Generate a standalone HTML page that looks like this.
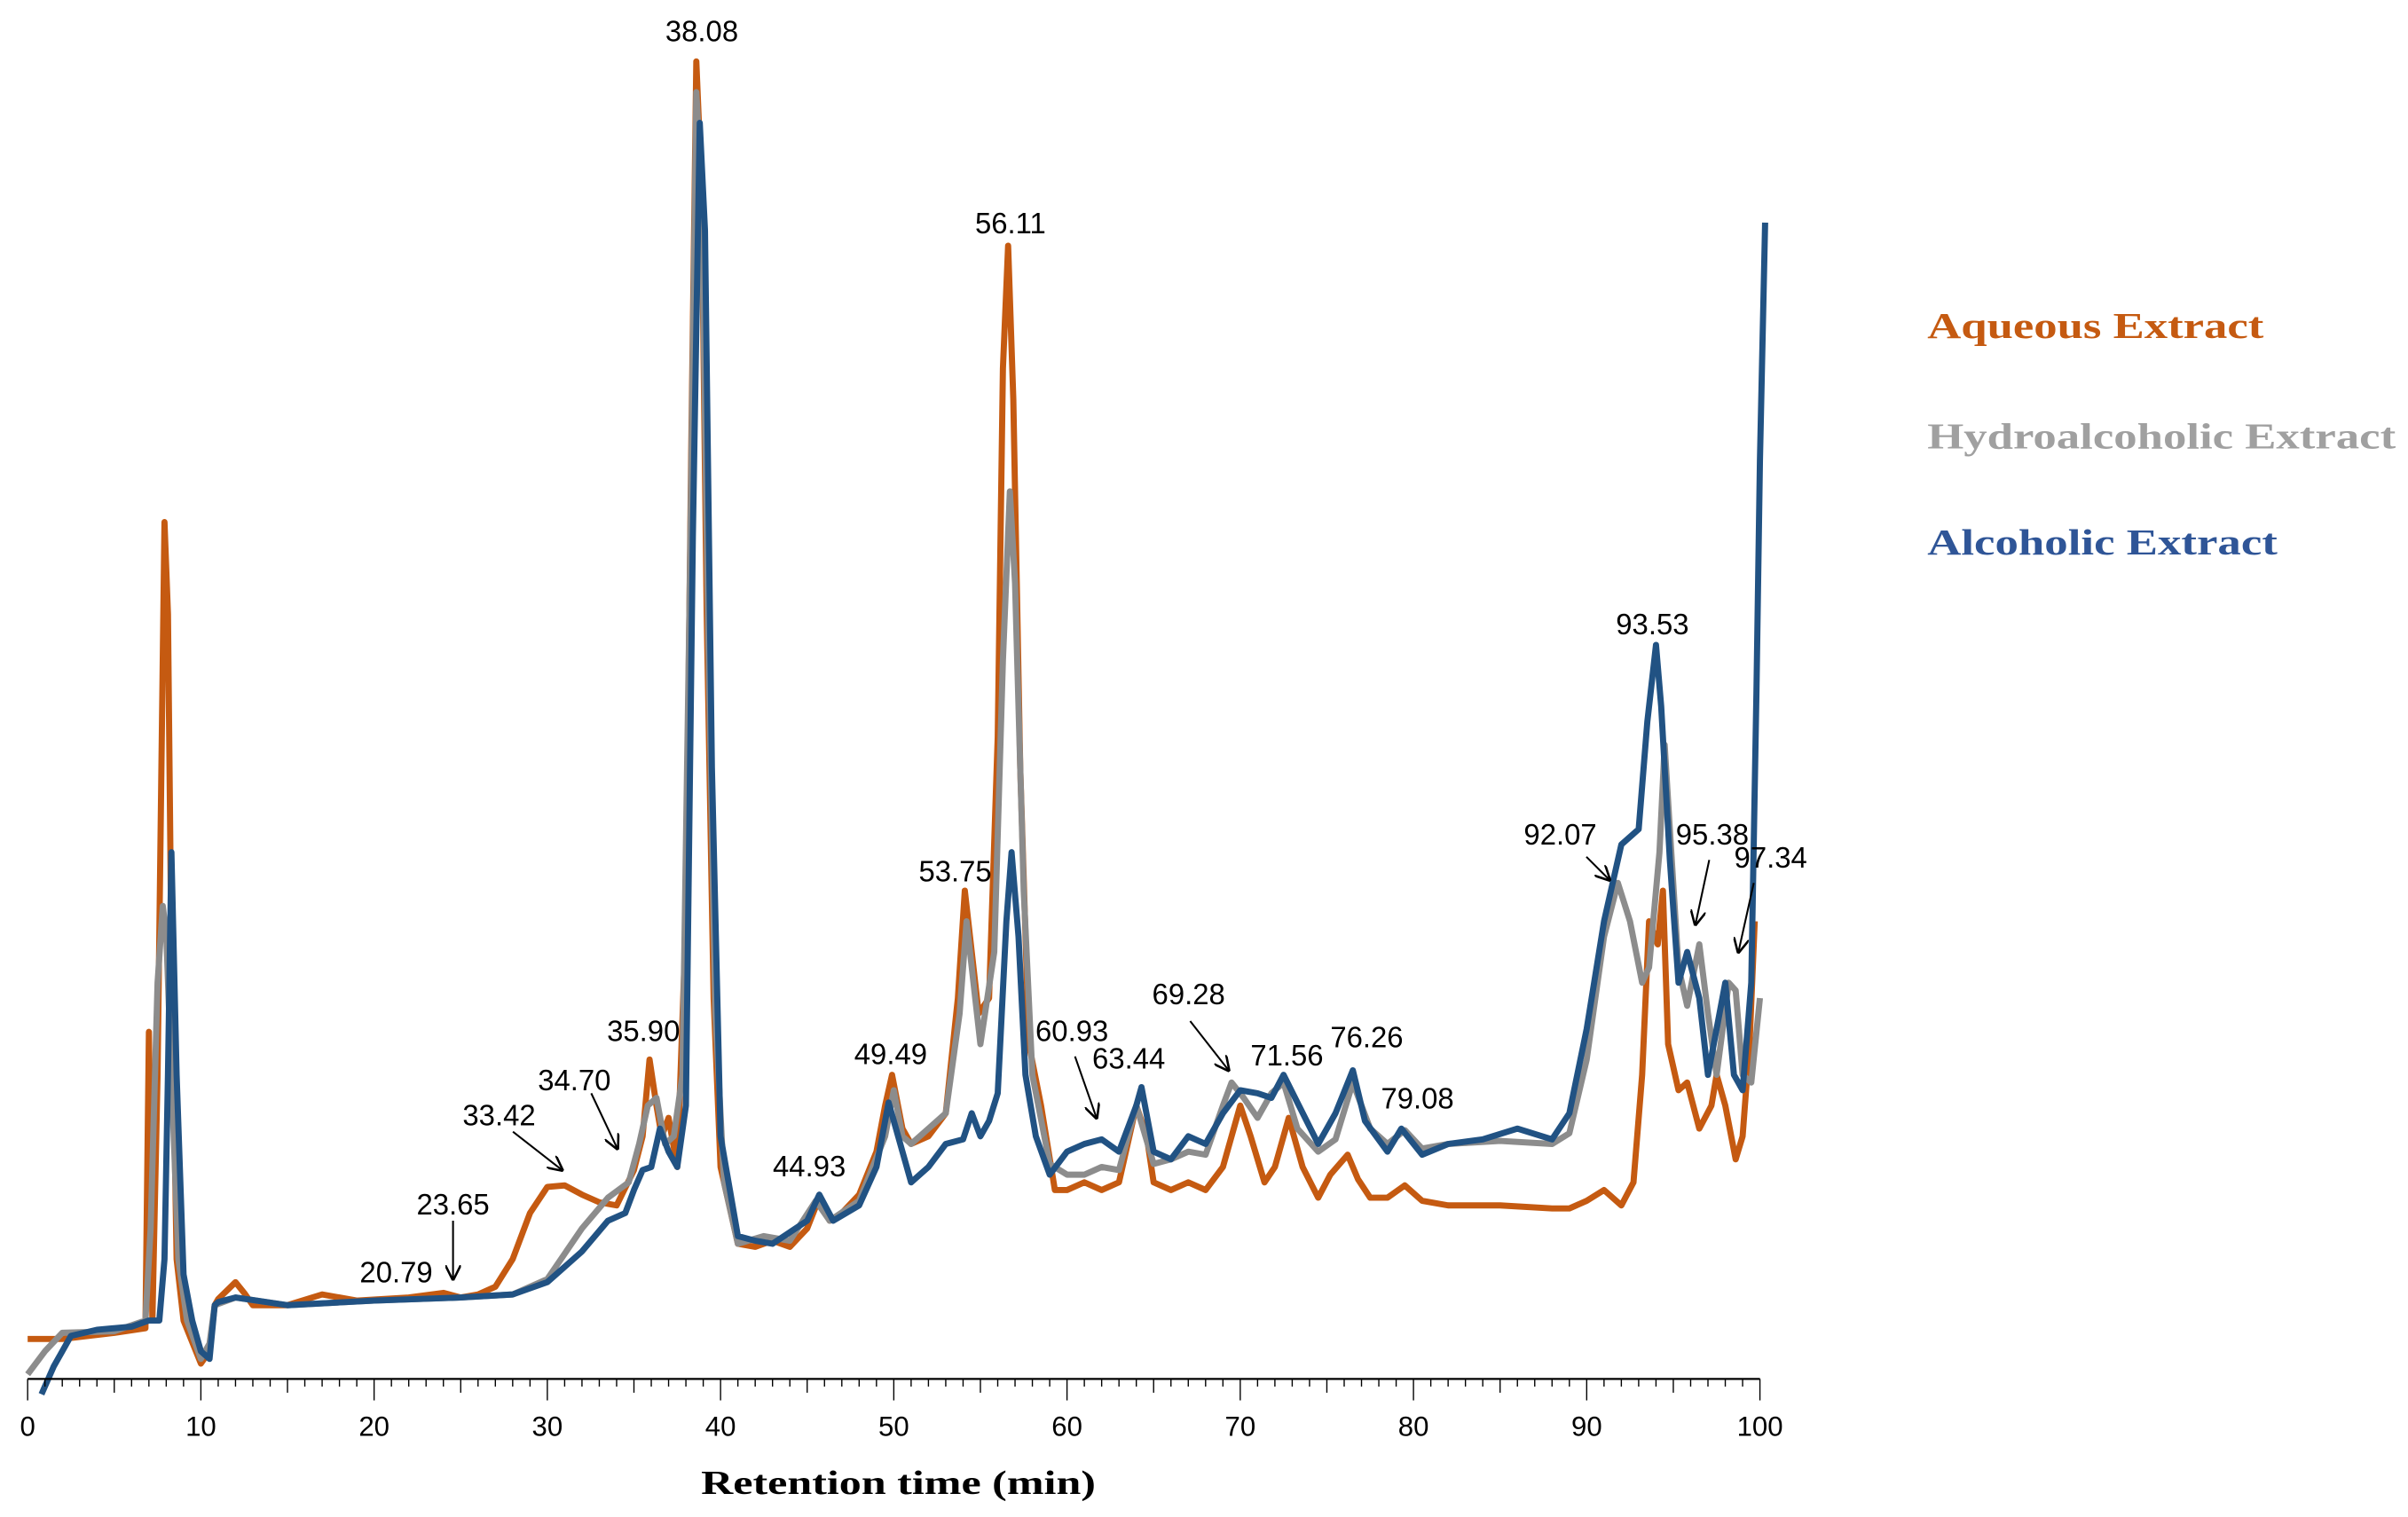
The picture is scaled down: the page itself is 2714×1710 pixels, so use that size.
<!DOCTYPE html>
<html><head><meta charset="utf-8"><style>
html,body{margin:0;padding:0;background:#fff;}
svg{display:block;}
</style></head><body>
<svg id="chart" width="2714" height="1710" viewBox="0 0 2714 1710" xmlns="http://www.w3.org/2000/svg">
<defs><marker id="ah" markerWidth="10" markerHeight="10" refX="9" refY="5" orient="auto" markerUnits="userSpaceOnUse"><path d="M0,0 L10,5 L0,10" fill="none" stroke="#000" stroke-width="1.5"/></marker></defs>
<g id="root" transform="scale(1.73087)">
<g id="series"></g>
<g id="axis"></g>
<g id="ann" font-family="'Liberation Sans', sans-serif" font-size="19" fill="#000"></g>
<text x="585" y="973" text-anchor="middle" font-family="'Liberation Serif', serif" font-weight="bold" font-size="22" textLength="257" lengthAdjust="spacingAndGlyphs">Retention time (min)</text>
<g font-family="'Liberation Serif', serif" font-weight="bold" font-size="24">
<text x="1255" y="220" fill="#C55A11" textLength="219" lengthAdjust="spacingAndGlyphs">Aqueous Extract</text>
<text x="1255" y="292" fill="#A0A0A0" textLength="305" lengthAdjust="spacingAndGlyphs">Hydroalcoholic Extract</text>
<text x="1255" y="361" fill="#2F5597" textLength="228" lengthAdjust="spacingAndGlyphs">Alcoholic Extract</text>
</g>
</g>
</svg>
<script>
const aqTime=[0,2,5,6.8,7.0,7.2,7.5,7.9,8.1,8.3,8.6,9,10,10.5,10.8,11,12,12.5,13,15,17,19,22,24,25,26,27,28,29,30,31,32,33,34,35,35.5,35.9,36.3,36.6,37,37.5,38.0,38.3,38.6,38.9,39.2,39.6,40,41,42,43,44,45,45.7,46.3,47,48,49,49.5,49.9,50.5,51,52,53,53.7,54.1,54.5,54.9,55.5,56,56.3,56.6,56.9,57.3,57.8,58.5,59.3,60,61,62,63,64,64.6,65,66,67,68,69,70,70.6,71.4,72,72.8,73.6,74.5,75.2,76.2,76.8,77.5,78.5,79.5,80.5,82,85,88,89,90,91,92,92.7,93.2,93.6,94.1,94.4,94.7,95.3,95.8,96.5,97.2,97.5,98.0,98.6,99,99.4,99.7];
const aqSignal=[26,26,30,33,226,38,198,558,498,278,78,38,10,18,48,52,63,56,48,48,55,51,53,56,53,55,60,78,108,125,126,120,115,113,136,158,208,178,158,170,138,298,598,858,778,498,248,138,88,86,90,86,98,118,103,108,120,148,178,198,163,153,158,173,248,318,278,238,248,418,658,738,638,398,218,178,123,123,128,123,128,178,158,128,123,128,123,138,178,158,128,138,170,138,118,133,146,130,118,118,126,116,113,113,111,111,116,123,113,128,198,298,283,318,218,188,193,163,178,198,178,143,158,218,298];
const hyTime=[0,1,2,5,6.8,7.1,7.5,7.8,8.0,8.3,8.7,9.2,10,10.5,10.8,12,15,20,25,28,30,32,33.5,34.7,35.3,35.8,36.3,36.8,37.3,37.8,38.2,38.6,38.9,39.3,39.7,40.2,41,42.5,44,45.5,46.3,48,49.5,50,50.5,51,52,53,53.8,54.2,54.6,55,55.8,56.3,56.7,57,57.5,58,59,60,61,62,63,64,65,66,67,68,69,69.5,70.2,71,71.8,72.5,73.3,74.5,75.5,76.5,77.5,78.5,79.5,80.5,82,85,88,89,90,91,91.8,92.5,93.2,93.6,94.2,94.5,94.8,95.3,95.8,96.5,97,97.5,98.2,98.6,99,99.5,100];
const hySignal=[3,18,30,31,38,98,258,308,290,198,78,38,13,23,48,53,48,51,53,55,65,98,118,128,153,178,183,153,158,198,498,838,778,478,238,128,88,93,90,116,103,116,158,188,158,153,163,173,238,298,258,218,278,468,578,518,318,198,140,133,133,138,136,178,140,143,148,146,178,193,183,170,186,193,163,148,156,193,163,153,162,150,153,155,153,160,208,288,323,298,258,268,343,413,358,268,243,283,238,198,258,253,198,193,248];
const alTime=[0.8,1.5,2.5,4,6,7,7.6,7.9,8.1,8.3,8.6,9,9.5,10,10.5,10.8,11,12,15,20,25,28,30,32,33.5,34.5,35,35.5,36,36.5,37,37.5,38,38.4,38.8,39.1,39.5,40,41,42,43,45,45.7,46.5,48,49,49.7,50.5,51,52,53,54,54.5,55,55.5,56,56.5,56.8,57.2,57.6,58.2,59,60,61,62,63,64,64.3,65,66,67,68,69,70,71,71.8,72.5,73.3,74.5,75.5,76.5,77.2,78.5,79.3,80.5,82,84,86,88,89,90,91,92,93,93.5,94,94.3,94.8,95.3,95.8,96.5,97,97.5,98,98.5,99,99.5,99.8,100,100.3];
const alSignal=[-10,8,28,32,34,38,38,78,198,343,198,68,38,18,13,48,50,53,48,51,53,55,63,83,103,108,123,136,138,163,148,138,178,548,818,748,398,158,93,90,88,103,120,103,113,138,180,148,128,138,153,156,173,158,168,186,298,343,288,198,158,133,148,153,156,148,178,190,148,143,158,153,173,188,186,183,198,180,153,173,201,168,148,163,146,153,156,163,156,173,228,298,348,358,428,478,438,338,258,278,248,198,228,258,198,188,258,448,598,753];
const xTicks=[0,10,20,30,40,50,60,70,80,90,100];
const annLabels=["38.08","56.11","93.53","92.07","95.38","97.34","53.75","49.49","44.93","60.93","63.44","69.28","71.56","76.26","79.08","35.90","34.70","33.42","23.65","20.79"];

const NS='http://www.w3.org/2000/svg';
const X=t=>18+t*11.28;
const Y=v=>898-v;
function mk(tag,attrs,parent){const e=document.createElementNS(NS,tag);for(const k in attrs)e.setAttribute(k,attrs[k]);parent.appendChild(e);return e;}
const sg=document.getElementById('series');
function drawSeries(ts,vs,color,name){
  const n=Math.min(ts.length,vs.length);
  let d='';
  for(let i=0;i<n;i++){d+=(i?'L':'M')+X(ts[i]).toFixed(2)+','+Y(vs[i]).toFixed(2);}
  const p=mk('path',{d:d,fill:'none',stroke:color,'stroke-width':4,'stroke-linejoin':'round'},sg);
  
  
}
drawSeries(aqTime,aqSignal,'#C55A11','aqueous-extract-line');
drawSeries(hyTime,hySignal,'#8C8C8C','hydroalcoholic-extract-line');
drawSeries(alTime,alSignal,'#215283','alcoholic-extract-line');

const ax=document.getElementById('axis');
const base=mk('line',{x1:X(0),y1:898,x2:X(100),y2:898,stroke:'#000','stroke-width':1.3},ax);


for(let t=0;t<=100;t++){
  const len=t%10===0?14:(t%5===0?9:5);
  mk('line',{x1:X(t),y1:898,x2:X(t),y2:898+len,stroke:'#000','stroke-width':0.8},ax);
}
xTicks.forEach(t=>{
  const tx=mk('text',{x:X(t),y:935,'text-anchor':'middle','font-family':"'Liberation Sans', sans-serif",'font-size':18},ax);
  tx.textContent=t;
  
  
});

const annPos=[[457,27],[658,152],[1076,413],[1016,550],[1115,550],[1153,565],[622,574],[580,693],[527,766],[698,678],[735,696],[774,654],[838,694],[890,682],[923,722],[419,678],[374,710],[325,733],[295,791],[258,835]];
const arrows=[[1033,558,1048,573],[1113,560,1104,602],[1142,575,1132,620],[700,688,714,728],[775,665,800,697],[385,712,402,748],[334,737,366,762],[295,795,295,833]];
const ann=document.getElementById('ann');
annLabels.forEach((s,i)=>{
  const tx=mk('text',{x:annPos[i][0],y:annPos[i][1],'text-anchor':'middle'},ann);
  tx.textContent=s;
  
  
});
arrows.forEach(a=>{
  const l=mk('line',{x1:a[0],y1:a[1],x2:a[2],y2:a[3],stroke:'#000','stroke-width':1.2,'marker-end':'url(#ah)'},ann);
  
  
});
</script>
</body></html>
